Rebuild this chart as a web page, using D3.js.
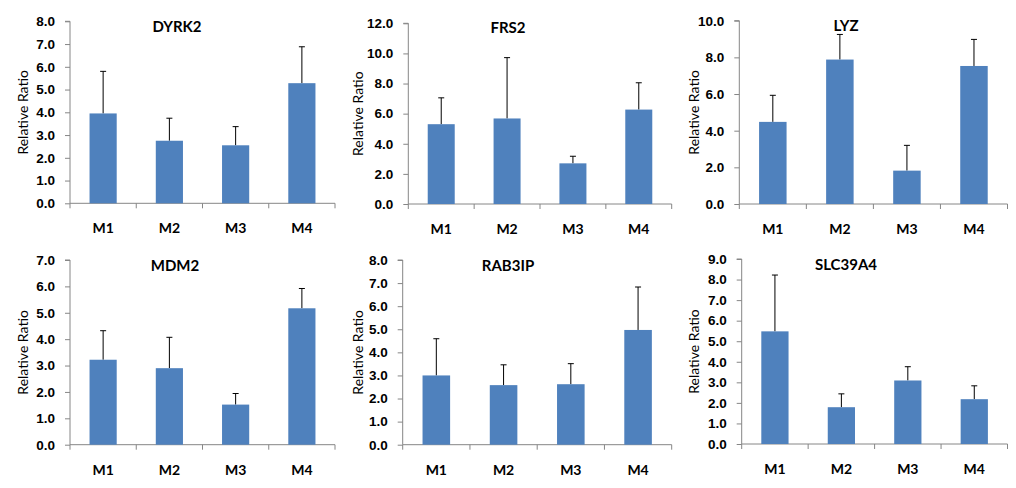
<!DOCTYPE html>
<html><head><meta charset="utf-8">
<script src="https://cdn.jsdelivr.net/npm/d3@7"></script>
<style>
html,body{margin:0;padding:0;background:#fff;}
svg{display:block;font-family:Lato,"Open Sans",sans-serif;}
</style></head>
<body>
<svg id="c" width="1016" height="488"></svg>
<script>
const categories = ["M1","M2","M3","M4"];
const genes = ["DYRK2","FRS2","LYZ","MDM2","RAB3IP","SLC39A4"];
const yMaxes = [8, 12, 10, 7, 8, 9];
const tickSteps = [1, 2, 2, 1, 1, 1];
const dyrk2Mean = [3.95, 2.75, 2.55, 5.28];
const dyrk2Err  = [5.8, 3.74, 3.37, 6.88];
const frs2Mean = [5.3, 5.68, 2.7, 6.27];
const frs2Err  = [7.05, 9.72, 3.17, 8.05];
const lyzMean = [4.48, 7.88, 1.82, 7.53];
const lyzErr  = [5.93, 9.25, 3.2, 8.98];
const mdm2Mean = [3.22, 2.9, 1.52, 5.17];
const mdm2Err  = [4.32, 4.07, 1.94, 5.92];
const rab3ipMean = [3.0, 2.58, 2.62, 4.97];
const rab3ipErr  = [4.59, 3.46, 3.51, 6.83];
const slc39a4Mean = [5.48, 1.79, 3.09, 2.18];
const slc39a4Err  = [8.22, 2.44, 3.76, 2.83];
const means = [dyrk2Mean, frs2Mean, lyzMean, mdm2Mean, rab3ipMean, slc39a4Mean];
const errTops = [dyrk2Err, frs2Err, lyzErr, mdm2Err, rab3ipErr, slc39a4Err];
const yLabel = "Relative Ratio";

// layout (positions only)
const layout = [
  {x0:70, x1:335, y0:21.3, y1:203.3, lx:22, tx:177, ty:32},
  {x0:408.3, x1:671.7, y0:23.3, y1:204, lx:357, tx:508, ty:33},
  {x0:739.3, x1:1007.5, y0:20.7, y1:204, lx:693, tx:846, ty:31},
  {x0:70, x1:335, y0:260, y1:444.7, lx:22, tx:175, ty:271},
  {x0:402.7, x1:671.7, y0:260, y1:444.7, lx:357, tx:508, ty:271},
  {x0:741.7, x1:1007.5, y0:259, y1:444, lx:693, tx:846, ty:270}
];

const svg = d3.select("#c");
const axisColor = "#868686";
const barColor = "#4F81BD";

genes.forEach((g, i) => {
  const L = layout[i];
  const x = d3.scaleBand().domain(categories).range([L.x0, L.x1]).paddingInner(0).paddingOuter(0);
  const y = d3.scaleLinear().domain([0, yMaxes[i]]).range([L.y1, L.y0]);
  const gp = svg.append("g");
  const ticks = d3.range(0, yMaxes[i] + 1e-9, tickSteps[i]);

  // y axis
  const ya = gp.append("g").attr("transform", `translate(${L.x0},0)`)
    .call(d3.axisLeft(y).tickValues(ticks).tickFormat(d3.format(".1f")).tickSize(5).tickPadding(10));
  ya.select(".domain").attr("stroke", axisColor).attr("d", `M-5,${y(yMaxes[i])}H0V${L.y1}`);
  ya.selectAll(".tick line").attr("stroke", axisColor);
  ya.selectAll(".tick text").attr("fill", "#000").style("font-size", "13.5px").style("font-weight", "bold");

  // x axis
  const bw = x.bandwidth();
  const bar = bw * 0.41;
  const xa = gp.append("g").attr("transform", `translate(0,${L.y1})`);
  xa.append("line").attr("x1", L.x0).attr("x2", L.x1).attr("y1", 0).attr("y2", 0).attr("stroke", axisColor);
  const edges = categories.map(c => x(c)).concat([x(categories[categories.length-1]) + bw]);
  xa.selectAll(".sep").data(edges).join("line")
    .attr("x1", d => d).attr("x2", d => d).attr("y1", 0).attr("y2", 5).attr("stroke", axisColor);
  xa.selectAll(".lab").data(categories).join("text")
    .attr("x", d => x(d) + bw/2).attr("y", 30).attr("text-anchor", "middle")
    .style("font-size", "14px").style("font-weight", "bold").attr("fill", "#000").text(d => d);

  // error bars (upper only)
  const data = categories.map((c, j) => ({c, v: means[i][j], e: errTops[i][j]}));
  gp.selectAll(".err").data(data).join("line")
    .attr("x1", d => x(d.c) + bw/2).attr("x2", d => x(d.c) + bw/2)
    .attr("y1", d => y(d.v)).attr("y2", d => y(d.e)).attr("stroke", "#000").attr("stroke-width", 1);
  gp.selectAll(".cap").data(data).join("line")
    .attr("x1", d => x(d.c) + bw/2 - 3).attr("x2", d => x(d.c) + bw/2 + 3)
    .attr("y1", d => y(d.e)).attr("y2", d => y(d.e)).attr("stroke", "#000").attr("stroke-width", 1);

  // bars
  gp.selectAll(".bar").data(data).join("rect")
    .attr("x", d => x(d.c) + (bw - bar)/2).attr("width", bar)
    .attr("y", d => y(d.v)).attr("height", d => L.y1 - y(d.v))
    .attr("fill", barColor);

  // title
  gp.append("text").attr("x", L.tx).attr("y", L.ty).attr("text-anchor", "middle")
    .style("font-size", "15px").style("font-weight", "bold").text(g);

  // y label
  gp.append("text").attr("transform", `translate(${L.lx},${(L.y0+L.y1)/2}) rotate(-90)`)
    .attr("text-anchor", "middle").attr("dominant-baseline", "central")
    .style("font-size", "14px").text(yLabel);
});
</script>
</body></html>
